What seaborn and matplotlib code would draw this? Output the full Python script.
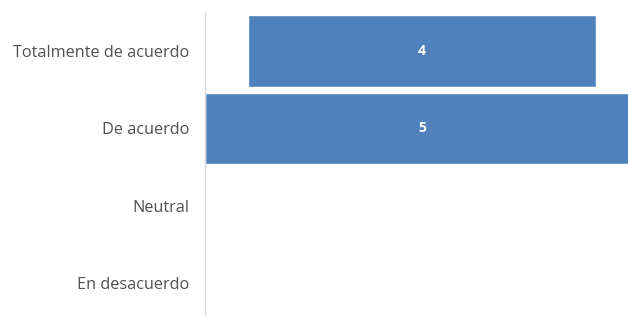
import matplotlib
matplotlib.use("Agg")
import matplotlib.pyplot as plt
import seaborn as sns
import pandas as pd

categories = ["Totalmente de acuerdo", "De acuerdo", "Neutral", "En desacuerdo"]
values = [4, 5, 0, 0]

df = pd.DataFrame({"categoria": categories, "valor": values})
lefts = [-v / 2 for v in values]

sns.set_style("white")
plt.rcParams["font.family"] = ["Open Sans", "DejaVu Sans"]

fig = plt.figure(figsize=(6.28, 3.16), dpi=100)
ax = fig.add_axes([205 / 628, -0.018, 423 / 628, 0.979])

sns.barplot(data=df, y="categoria", x="valor", order=categories, orient="y",
            color="#4F81BD", saturation=1, width=0.92, left=lefts,
            edgecolor="white", linewidth=1, ax=ax)

for i, v in enumerate(values):
    if v > 0:
        ax.text(0, i, str(v), color="white", ha="center", va="center",
                fontsize=10, fontweight="bold")

ax.set_xlim(-2.5, 2.37)
ax.set_ylim(3.5, -0.5)
ax.set_xlabel("")
ax.set_ylabel("")
ax.set_xticks([])
ax.tick_params(axis="y", length=0, pad=11, labelsize=11.7, labelcolor="#505050")
for s in ["top", "right", "bottom"]:
    ax.spines[s].set_visible(False)
ax.spines["left"].set_color("#D9D9D9")
ax.spines["left"].set_linewidth(1)

fig.savefig("out.png", dpi=100)
